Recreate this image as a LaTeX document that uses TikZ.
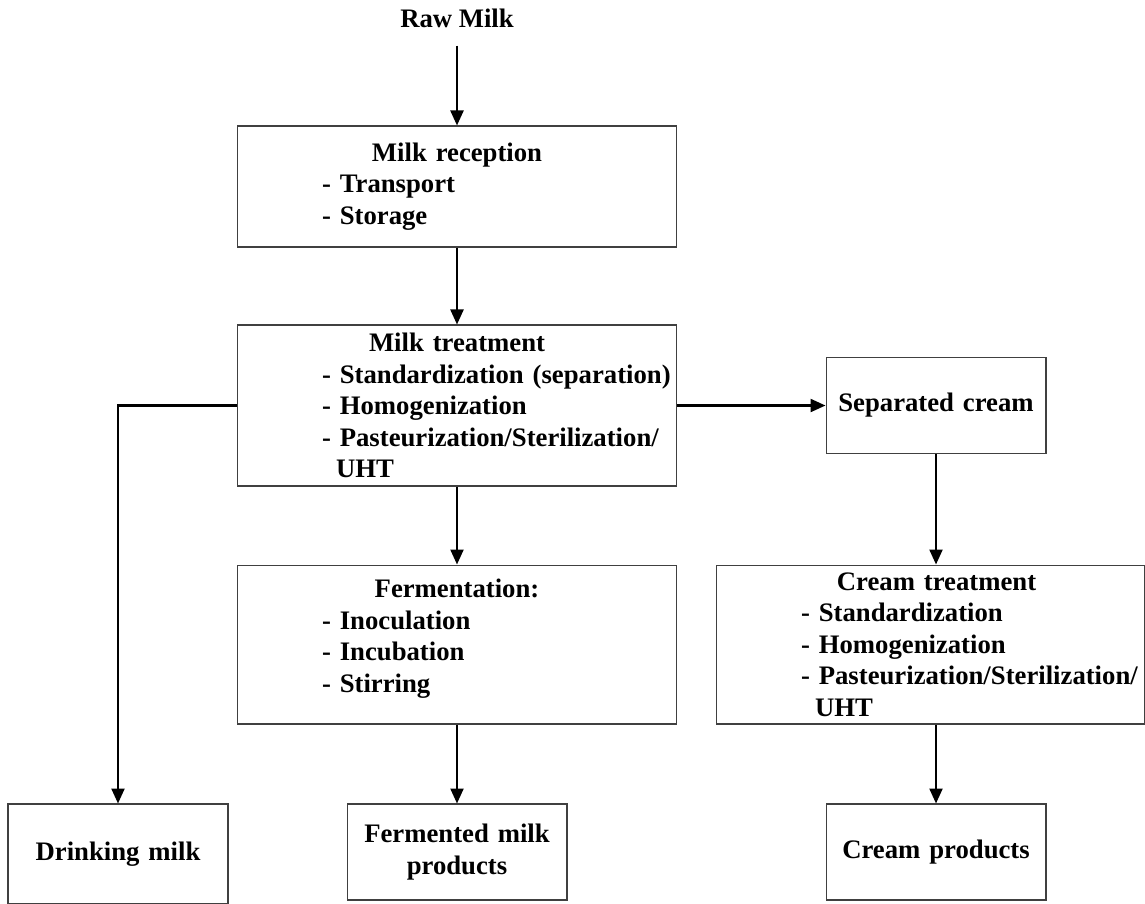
\documentclass[tikz,border=0pt]{standalone}
\usepackage{fontspec}
\setmainfont{Liberation Serif}
\usetikzlibrary{arrows.meta,positioning}

\newcommand{\boxtitle}[1]{\hspace*{\fill}#1\hspace*{\fill}\mbox{}}
\newcommand{\itm}[1]{\hspace*{1.7cm}- #1}
\newcommand{\itmcont}[1]{\hspace*{1.98cm}#1}

\begin{document}
\begin{tikzpicture}[
  x=0.02cm, y=-0.02cm,
  font=\fontsize{15.2}{17.9}\selectfont\bfseries,
  >={Triangle[length=0.3cm, width=0.26cm]},
  stage/.style={draw=black!75, line width=0.6pt, align=left, text width=8.8cm, inner xsep=0pt, inner ysep=2pt},
  product/.style={draw=black!75, line width=0.6pt, align=center, text width=4.2cm, minimum width=4.4cm, minimum height=1.92cm, inner sep=2pt},
  arr/.style={->, line width=1.3pt}
]
\useasboundingbox (0,0) rectangle (1145,903);

\node (raw) at (457,18) {Raw Milk};
\node[stage, minimum height=2.42cm] (rec) at (457,186.5)
  {\boxtitle{Milk reception}\\ \itm{Transport}\\ \itm{Storage}};
\node[stage, minimum height=3.22cm] (treat) at (457,405.5)
  {\boxtitle{Milk treatment}\\ \itm{Standardization (separation)}\\ \itm{Homogenization}\\
   \itm{Pasteurization/Sterilization/}\\ \itmcont{UHT}};
\node[product, minimum height=1.92cm] (sep) at (936,405.5) {Separated cream};
\node[stage, minimum height=3.18cm] (ferm) at (457,644.5)
  {\boxtitle{Fermentation:}\\ \itm{Inoculation}\\ \itm{Incubation}\\ \itm{Stirring}\\[-8pt] \mbox{}};
\node[stage, text width=8.58cm, minimum height=3.18cm] (ctreat) at (930.5,644.5)
  {\boxtitle{\hspace*{0.24cm}Cream treatment}\\ \itm{Standardization}\\ \itm{Homogenization}\\
   \itm{Pasteurization/Sterilization/}\\ \itmcont{UHT}};
\node[product, minimum height=2cm] (drink) at (118,854) {Drinking milk};
\node[product] (fprod) at (457,852) {Fermented milk\\products};
\node[product] (cprod) at (936,852) {Cream products};

\draw[arr] (raw.south) ++(0,12) -- (rec.north);
\draw[arr] (rec) -- (treat);
\draw[arr] (treat) -- (ferm);
\draw[arr] (treat.east) -- (sep.west);
\draw[arr] (treat.west) -| (drink.north);
\draw[arr] (sep.south) -- (sep.south |- ctreat.north);
\draw[arr] (ctreat.south -| cprod.north) -- (cprod.north);
\draw[arr] (ferm) -- (fprod);
\end{tikzpicture}
\end{document}
